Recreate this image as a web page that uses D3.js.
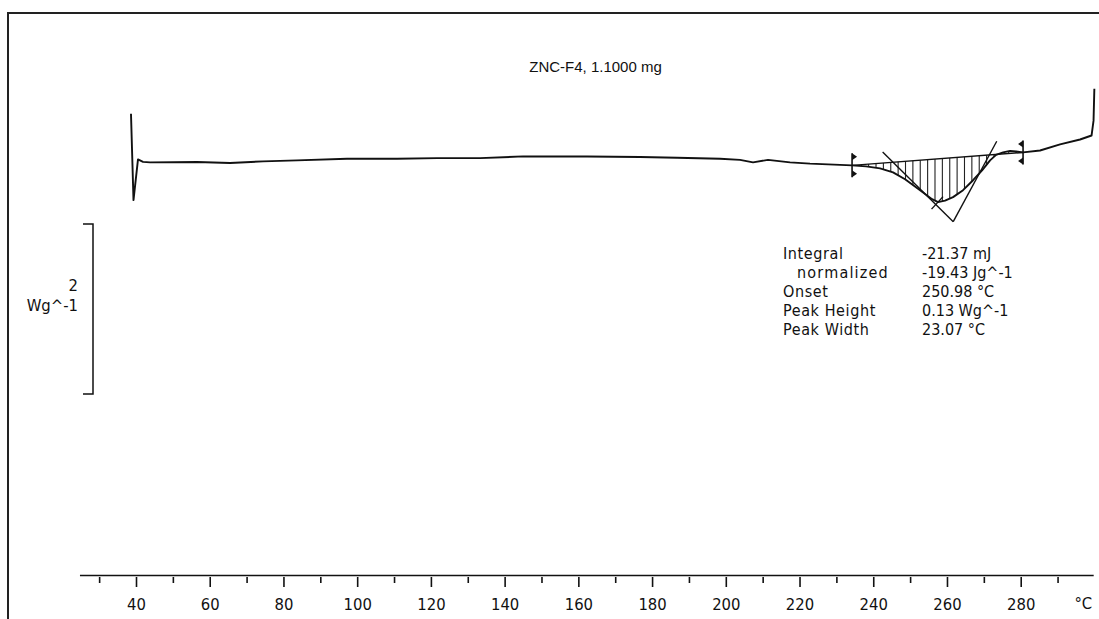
<!DOCTYPE html>
<html><head><meta charset="utf-8">
<script src="https://cdn.jsdelivr.net/npm/d3@7"></script>
<style>
html,body{margin:0;padding:0;background:#fff;}
svg{display:block;}
</style></head>
<body>
<svg id="chart" width="1099" height="619"></svg>
<script>
// ---- data ----
const title = "ZNC-F4, 1.1000 mg";
const majorTicks = [40,60,80,100,120,140,160,180,200,220,240,260,280];
const minorTicks = [30,50,70,90,110,130,150,170,190,210,230,250,270,290];
const axisUnit = "°C";
const scaleBarValue = 2;
const scaleBarUnit = "Wg^-1";
// temperature (°C) and heat flow (W/g, arbitrary offset)
const curveT = [38.64,39.32,40.54,41.90,43.80,56.55,65.50,74.45,83.68,97.24,110.81,121.66,133.33,144.99,162.35,176.73,186.77,198.44,203.86,207.39,211.46,217.43,222.86,234.25,238.05,241.85,245.37,248.63,252.70,255.96,257.58,259.48,261.65,264.36,267.08,269.52,271.69,273.32,275.22,277.12,278.74,280.64,285.25,290.68,296.10,299.22,299.76,299.98];
const curveHF = [3.298,2.281,2.760,2.731,2.725,2.729,2.717,2.737,2.749,2.768,2.768,2.775,2.775,2.795,2.795,2.789,2.780,2.768,2.754,2.725,2.754,2.725,2.710,2.690,2.678,2.655,2.608,2.526,2.398,2.292,2.257,2.275,2.316,2.398,2.515,2.632,2.749,2.813,2.842,2.860,2.854,2.842,2.865,2.936,2.994,3.041,3.216,3.591];
const limitT = [234.25, 280.64];
const tangentLeftT = [242.55, 261.70], tangentLeftHF = [2.846, 2.027];
const tangentRightT = [273.50, 261.70], tangentRightHF = [2.974, 2.027];
const crossT = [255.81, 258.93], crossHF = [2.175, 2.322];
const hatchStep = 2;
const resultLabels = ["Integral","normalized","Onset","Peak Height","Peak Width"];
const resultIndent = [0,1,0,0,0];
const resultValues = ["-21.37 mJ","-19.43 Jg^-1","250.98 °C","0.13 Wg^-1","23.07 °C"];

// ---- scales ----
const svg = d3.select("#chart");
const x = d3.scaleLinear().domain([40,280]).range([136,1020.7]);
const y = d3.scaleLinear().domain([0,2]).range([394,224]);
const pts = curveT.map((t,i)=>[t,curveHF[i]]);
const bis = d3.bisector(d=>d[0]).left;
function hfAt(t){
  let i = bis(pts,t); if(i<=0) return pts[0][1]; if(i>=pts.length) return pts[pts.length-1][1];
  const a=pts[i-1], b=pts[i]; return a[1]+(b[1]-a[1])*(t-a[0])/(b[0]-a[0]);
}
const baseA=[limitT[0],hfAt(limitT[0])], baseB=[limitT[1],hfAt(limitT[1])];
function baseAt(t){return baseA[1]+(baseB[1]-baseA[1])*(t-baseA[0])/(baseB[0]-baseA[0]);}

// ---- frame ----
svg.append("line").attr("x1",8).attr("x2",8).attr("y1",12).attr("y2",619).attr("stroke","#222").attr("stroke-width",2);
svg.append("line").attr("x1",8).attr("x2",1099).attr("y1",13).attr("y2",13).attr("stroke","#222").attr("stroke-width",2);

// ---- title ----
svg.append("text").attr("x",595.5).attr("y",72).attr("text-anchor","middle")
  .attr("font-family","'Liberation Sans',Arial,sans-serif").attr("font-size",15).attr("fill","#111").text(title);

// ---- x axis ----
const fontTick = "'DejaVu Sans Condensed','DejaVu Sans',sans-serif";
svg.append("line").attr("x1",x(24.8)).attr("x2",x(299.8)).attr("y1",575.5).attr("y2",575.5).attr("stroke","#111").attr("stroke-width",1.6);
const gMaj = svg.append("g").attr("transform","translate(0,577)")
  .call(d3.axisBottom(x).tickValues(majorTicks).tickSize(10).tickSizeOuter(0).tickFormat(d3.format("d")));
gMaj.select(".domain").remove();
gMaj.selectAll("line").attr("stroke","#111").attr("stroke-width",1.6);
gMaj.selectAll("text").attr("font-family",fontTick).attr("font-size",16.5).attr("fill","#111").attr("y",21).attr("dy","0.71em");
const gMin = svg.append("g").attr("transform","translate(0,577)")
  .call(d3.axisBottom(x).tickValues(minorTicks).tickSize(6).tickSizeOuter(0).tickFormat(""));
gMin.select(".domain").remove();
gMin.selectAll("line").attr("stroke","#111").attr("stroke-width",1.6);
svg.append("text").attr("x",x(297)).attr("y",609).attr("text-anchor","middle").attr("font-family",fontTick).attr("font-size",16.5).attr("fill","#111").text(axisUnit);

// ---- scale bar ----
const bx = 93;
svg.append("path").attr("d",`M${bx-10},${y(scaleBarValue)}H${bx}V${y(0)}H${bx-10}`).attr("fill","none").attr("stroke","#111").attr("stroke-width",1.5);
svg.append("text").attr("x",78).attr("y",291).attr("text-anchor","end").attr("font-family",fontTick).attr("font-size",16.5).attr("fill","#111").text(scaleBarValue);
svg.append("text").attr("x",78).attr("y",311).attr("text-anchor","end").attr("font-family",fontTick).attr("font-size",16.5).attr("fill","#111").text(scaleBarUnit);

// ---- hatching ----
const hatchTs = d3.range(limitT[0]+2.5, limitT[1], hatchStep);
svg.append("g").selectAll("line").data(hatchTs).join("line")
  .attr("x1",d=>x(d)).attr("x2",d=>x(d)).attr("y1",d=>y(baseAt(d))).attr("y2",d=>y(hfAt(d)))
  .attr("stroke","#222").attr("stroke-width",1.1);

// baseline (integration)
svg.append("line").attr("x1",x(baseA[0])).attr("y1",y(baseA[1])).attr("x2",x(baseB[0])).attr("y2",y(baseB[1])).attr("stroke","#111").attr("stroke-width",1.4);

// tangents
const tl = d3.line().x(d=>x(d[0])).y(d=>y(d[1]));
svg.append("path").attr("d",tl(tangentLeftT.map((t,i)=>[t,tangentLeftHF[i]]))).attr("fill","none").attr("stroke","#111").attr("stroke-width",1.4);
svg.append("path").attr("d",tl(tangentRightT.map((t,i)=>[t,tangentRightHF[i]]))).attr("fill","none").attr("stroke","#111").attr("stroke-width",1.4);
svg.append("path").attr("d",tl(crossT.map((t,i)=>[t,crossHF[i]]))).attr("fill","none").attr("stroke","#111").attr("stroke-width",1.4);

// ---- curve ----
svg.append("path").attr("d",d3.line().x(d=>x(d[0])).y(d=>y(d[1]))(pts))
  .attr("fill","none").attr("stroke","#111").attr("stroke-width",1.9).attr("stroke-linejoin","round");

// ---- limit markers ----
[[baseA,1],[baseB,-1]].forEach(([p,dir])=>{
  const px=x(p[0]), py=y(p[1]);
  const g=svg.append("g");
  g.append("line").attr("x1",px).attr("x2",px).attr("y1",py-12).attr("y2",py+12).attr("stroke","#111").attr("stroke-width",1.6);
  g.append("path").attr("d",`M${px},${py-12}L${px+5*dir},${py-8.5}L${px},${py-5}Z`).attr("fill","#111");
  g.append("path").attr("d",`M${px},${py+5}L${px+5*dir},${py+8.5}L${px},${py+12}Z`).attr("fill","#111");
});

// ---- results ----
resultLabels.forEach((l,i)=>{
  svg.append("text").attr("x",resultIndent[i]?797:783).attr("y",259+i*19).attr("font-family",fontTick).attr("font-size",16)
    .attr("letter-spacing",resultIndent[i]?1.2:0.6).attr("fill","#111").text(l);
  svg.append("text").attr("x",922).attr("y",259+i*19).attr("font-family",fontTick).attr("font-size",16)
    .attr("fill","#111").text(resultValues[i]);
});
</script>
</body></html>
